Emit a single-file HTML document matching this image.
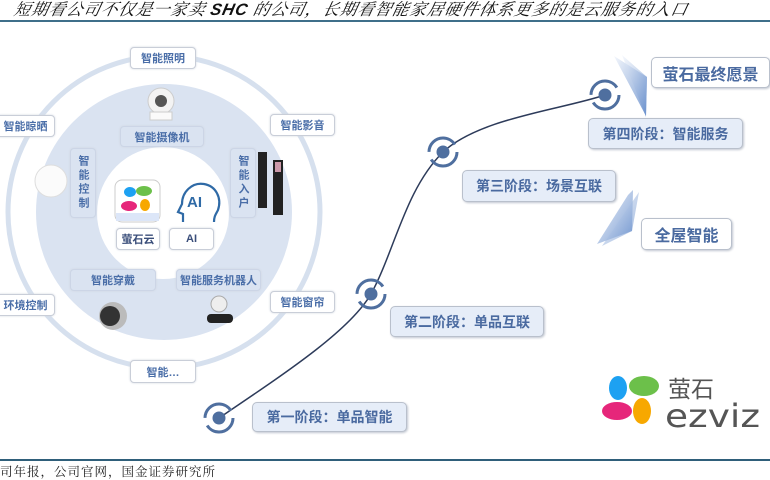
<!DOCTYPE html>
<html><head><meta charset="utf-8"><style>
body{margin:0;width:770px;height:478px;background:#fff;overflow:hidden;position:relative;font-family:"Liberation Sans","Noto Sans CJK SC",sans-serif}
.t{position:absolute;left:12px;top:-4px;font-family:"Liberation Serif","Noto Serif CJK SC",serif;font-style:italic;font-size:16.5px;color:#111;white-space:nowrap;letter-spacing:0.9px;transform:skewX(-12deg);transform-origin:0 100%}
.t b{font-family:"Liberation Sans",sans-serif}
.hl{position:absolute;left:0;top:20px;width:770px;height:2px;background:#3f6f8a}
.fl{position:absolute;left:0;top:459px;width:770px;height:1.5px;background:#2f5f7a}
.ft{position:absolute;left:0;top:462px;font-family:"Liberation Serif","Noto Serif CJK SC",serif;font-size:12.5px;color:#222;letter-spacing:1px}
.b{position:absolute;box-sizing:border-box;border:1.5px solid #c9ced8;border-radius:4px;background:#fff;color:#4a6ea8;font-weight:bold;font-size:11px;display:flex;align-items:center;justify-content:center;box-shadow:0 0 2px #d0d6e0}
.bi{background:#dae3f1;border-color:#ccd5e6}
.v{writing-mode:vertical-rl;letter-spacing:3px}
.s{position:absolute;box-sizing:border-box;border:1.5px solid #b9c0cc;border-radius:5px;background:#e6edf8;color:#4a6aa0;font-weight:bold;font-size:14px;display:flex;align-items:center;justify-content:center;box-shadow:1px 1px 2px #c0c6d0}
.w{background:#fff;font-size:16px}
</style></head><body>
<div class="t">短期看公司不仅是一家卖 <b>SHC</b> 的公司，长期看智能家居硬件体系更多的是云服务的入口</div>
<div class="hl"></div>
<svg style="position:absolute;left:0;top:0" width="770" height="478">
<defs><linearGradient id="g" x1="0" y1="0" x2="1" y2="1"><stop offset="0" stop-color="#f0f4fb"/><stop offset="1" stop-color="#5c86c8"/></linearGradient></defs>
<circle cx="164" cy="212" r="156" fill="none" stroke="#d6e0ee" stroke-width="5"/>
<circle cx="164" cy="212" r="128" fill="#dae3f1"/>
<circle cx="163" cy="213" r="66" fill="#fff"/>
<circle cx="161" cy="101" r="13" fill="#f3f3f3" stroke="#ccc"/><circle cx="161" cy="101" r="6" fill="#555"/><rect x="150" y="112" width="22" height="8" fill="#fafafa" stroke="#ccc"/>
<circle cx="51" cy="181" r="16" fill="#fbfbfb" stroke="#ddd"/>
<rect x="258" y="152" width="9" height="56" fill="#222"/><rect x="273" y="160" width="10" height="55" fill="#222"/><rect x="275" y="162" width="6" height="10" fill="#c9a"/>
<circle cx="113" cy="316" r="14" fill="#bbb"/><circle cx="110" cy="316" r="10" fill="#333"/>
<circle cx="219" cy="304" r="8" fill="#eee" stroke="#aaa"/><rect x="207" y="314" width="26" height="9" rx="4" fill="#222"/>
<rect x="115" y="180" width="45" height="42" rx="7" fill="#fff" stroke="#ccc"/><rect x="116" y="213" width="43" height="8" fill="#dce6f8"/>
<ellipse cx="130" cy="192" rx="6" ry="5" fill="#1da1f2"/><ellipse cx="144" cy="191" rx="8" ry="5" fill="#6cc04a"/><ellipse cx="129" cy="206" rx="8" ry="5" fill="#e6267a"/><ellipse cx="145" cy="205" rx="5" ry="6" fill="#f7a800"/>
<path d="M183 222 v-8 l-5 -2 l4 -8 c0 -12 10 -22 22 -20 c12 2 18 14 14 26 c-2 4 -4 6 -4 12" fill="none" stroke="#2f6aa6" stroke-width="2.2"/>
<text x="187" y="207" font-size="15" font-weight="bold" font-family="Liberation Sans" fill="#2f6aa6">AI</text>
<path d="M219 418 C290 370 350 330 371 294 C395 250 405 190 443 152 C480 118 560 110 605 95" fill="none" stroke="#2d3b5a" stroke-width="1.5"/>
<g fill="#4f6f9f" stroke="#4f6f9f">
<circle cx="605" cy="95" r="6"/><circle cx="605" cy="95" r="14" fill="none" stroke-width="3" stroke-dasharray="36 8"/>
<circle cx="443" cy="152" r="6"/><circle cx="443" cy="152" r="14" fill="none" stroke-width="3" stroke-dasharray="36 8"/>
<circle cx="371" cy="294" r="6"/><circle cx="371" cy="294" r="14" fill="none" stroke-width="3" stroke-dasharray="36 8"/>
<circle cx="219" cy="418" r="6"/><circle cx="219" cy="418" r="14" fill="none" stroke-width="3" stroke-dasharray="36 8"/>
</g>
<polygon points="614,56 647,77 646,116" fill="url(#g)" opacity="0.8"/><polygon points="622,55 647,77 646,117" fill="url(#g)" opacity="0.6"/>
<polygon points="633,190 632,231 597,244 628,195" fill="url(#g)" opacity="0.8"/><polygon points="639,192 632,231 602,246" fill="url(#g)" opacity="0.6"/>
<ellipse cx="618" cy="388" rx="9" ry="12" fill="#1da1f2"/><ellipse cx="644" cy="386" rx="15" ry="10" fill="#6cc04a"/><ellipse cx="617" cy="411" rx="15" ry="9" fill="#e6267a"/><ellipse cx="642" cy="411" rx="9" ry="13" fill="#f7a800"/>
<text x="668" y="397" font-size="23" fill="#555" font-family="Noto Sans CJK SC">萤石</text>
<text x="665" y="427" font-size="32" fill="#555" font-family="DejaVu Sans" textLength="95" lengthAdjust="spacingAndGlyphs">ezviz</text>
</svg>
<div class="b" style="left:130px;top:47px;width:66px;height:22px">智能照明</div>
<div class="b" style="left:-4px;top:115px;width:59px;height:22px">智能晾晒</div>
<div class="b" style="left:270px;top:114px;width:65px;height:22px">智能影音</div>
<div class="b" style="left:-4px;top:294px;width:59px;height:22px">环境控制</div>
<div class="b" style="left:270px;top:291px;width:65px;height:22px">智能窗帘</div>
<div class="b" style="left:130px;top:360px;width:66px;height:23px">智能…</div>
<div class="b bi" style="left:120px;top:126px;width:84px;height:21px">智能摄像机</div>
<div class="b bi v" style="left:70px;top:148px;width:26px;height:70px">智能控制</div>
<div class="b bi v" style="left:230px;top:148px;width:26px;height:70px">智能入户</div>
<div class="b bi" style="left:70px;top:269px;width:86px;height:22px">智能穿戴</div>
<div class="b bi" style="left:176px;top:269px;width:85px;height:22px">智能服务机器人</div>
<div class="b" style="left:116px;top:228px;width:44px;height:22px;color:#3a4e7a">萤石云</div>
<div class="b" style="left:169px;top:228px;width:45px;height:22px;color:#3a4e7a">AI</div>
<div class="s w" style="left:651px;top:57px;width:119px;height:31px">萤石最终愿景</div>
<div class="s" style="left:588px;top:118px;width:155px;height:31px">第四阶段：智能服务</div>
<div class="s" style="left:462px;top:170px;width:154px;height:32px">第三阶段：场景互联</div>
<div class="s w" style="left:641px;top:218px;width:91px;height:32px">全屋智能</div>
<div class="s" style="left:390px;top:306px;width:154px;height:31px">第二阶段：单品互联</div>
<div class="s" style="left:252px;top:402px;width:155px;height:30px">第一阶段：单品智能</div>
<div class="fl"></div>
<div class="ft">司年报，公司官网，国金证券研究所</div>
</body></html>
